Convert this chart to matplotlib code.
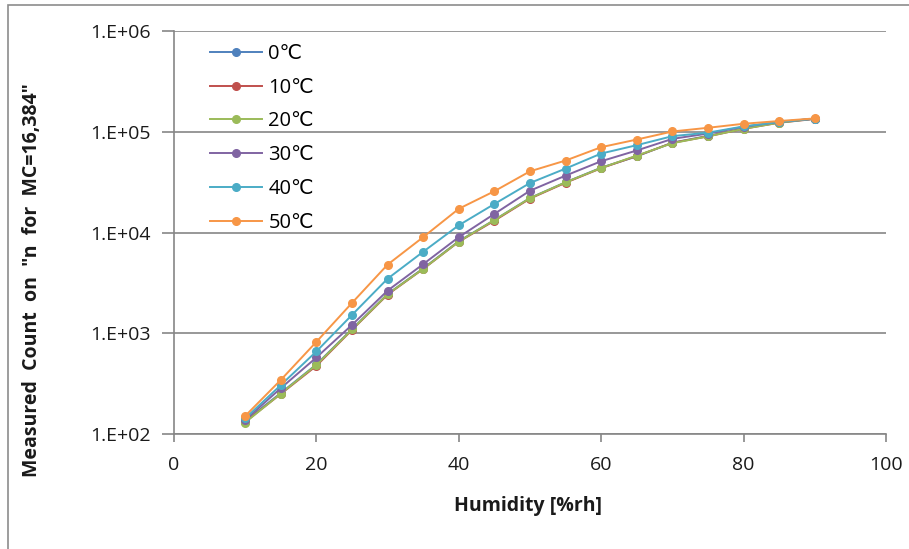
import matplotlib
matplotlib.use('Agg')
import matplotlib.pyplot as plt
from matplotlib.patches import Rectangle

plt.rcParams['font.family'] = ['Open Sans', 'DejaVu Sans', 'Noto Sans CJK JP']

HUMIDITY = [10, 15, 20, 25, 30, 35, 40, 45, 50, 55, 60, 65, 70, 75, 80, 85, 90]

T0 = [135, 255, 490, 1100, 2450, 4400, 8200, 13300, 22000, 31500, 44000,
      57000, 78000, 91000, 108000, 124000, 135000]
T10 = [132, 250, 475, 1080, 2420, 4350, 8100, 13100, 21700, 31200, 43500,
       57500, 77600, 90000, 107000, 123000, 134000]
T20 = [130, 252, 485, 1090, 2440, 4360, 8130, 13300, 21900, 31500, 43700,
       58000, 77000, 90000, 107000, 123000, 135000]
T30 = [138, 285, 575, 1210, 2650, 4850, 9000, 15300, 26000, 36700, 51000,
       65200, 85000, 96000, 112000, 125000, 135000]
T40 = [143, 306, 660, 1520, 3480, 6440, 11800, 19200, 31000, 43100, 60800,
       73600, 90400, 98000, 113000, 125000, 135000]
T50 = [151, 344, 822, 2000, 4800, 9000, 17200, 25700, 40500, 51800, 70300,
       83700, 100600, 109500, 120000, 127800, 135600]

SERIES = [('0℃', T0, '#4F81BD'), ('10℃', T10, '#C0504D'),
          ('20℃', T20, '#9BBB59'), ('30℃', T30, '#8064A2'),
          ('40℃', T40, '#4BACC6'), ('50℃', T50, '#F79646')]

Y_TICKS = [1e2, 1e3, 1e4, 1e5, 1e6]
Y_LABELS = ['1.E+02', '1.E+03', '1.E+04', '1.E+05', '1.E+06']
X_TICKS = [0, 20, 40, 60, 80, 100]

C_AXIS = '#868686'
C_TEXT = '#1a1a1a'

fig = plt.figure(figsize=(9.09, 5.49), dpi=100)
fig.patch.set_facecolor('white')
# outer chart border (right/bottom edges fall outside the picture)
fig.patches.append(Rectangle((8 / 909, -0.05), 1.2, 1 - 5 / 549 + 0.05,
                             transform=fig.transFigure, fill=False,
                             edgecolor='#8c8c8c', linewidth=1.2))

ax = fig.add_axes([174 / 909, 1 - 434 / 549, (886 - 174) / 909, (434 - 31) / 549])

for label, vals, color in SERIES:
    ax.plot(HUMIDITY, vals, color=color, linewidth=1.4, marker='o',
            markersize=5.5, label=label)

ax.set_yscale('log')
ax.set_ylim(1e2, 1e6)
ax.set_xlim(0, 100)
ax.set_yticks(Y_TICKS)
ax.set_yticklabels(Y_LABELS)
ax.minorticks_off()
ax.set_xticks(X_TICKS)

for side in ('top', 'right'):
    ax.spines[side].set_visible(False)
for side in ('left', 'bottom'):
    ax.spines[side].set_color(C_AXIS)
    ax.spines[side].set_linewidth(1.2)
ax.grid(axis='y', color=C_AXIS, linewidth=1.2)
ax.set_axisbelow(True)
ax.tick_params(axis='y', length=9, width=1.2, color=C_AXIS, labelsize=14,
               pad=8, labelcolor=C_TEXT)
ax.tick_params(axis='x', length=6, width=1.2, color=C_AXIS, labelsize=14,
               pad=10, labelcolor=C_TEXT)

ax.set_xlabel('Humidity [%rh]', fontsize=14, fontweight='bold',
              color=C_TEXT)
ax.set_ylabel('Measured  Count  on  "n  for  MC=16,384"', fontsize=14,
              fontweight='bold', color=C_TEXT)
ax.xaxis.set_label_coords(0.497, -0.154)
ax.yaxis.set_label_coords(-0.186, 0.383)

ax.legend(loc='upper left', bbox_to_anchor=(0.032, 1.0), frameon=False,
          fontsize=14.5, handlelength=2.6, handletextpad=0.3,
          labelspacing=0.68, borderaxespad=0.25)

fig.savefig('out.png', dpi=100, facecolor='white')
